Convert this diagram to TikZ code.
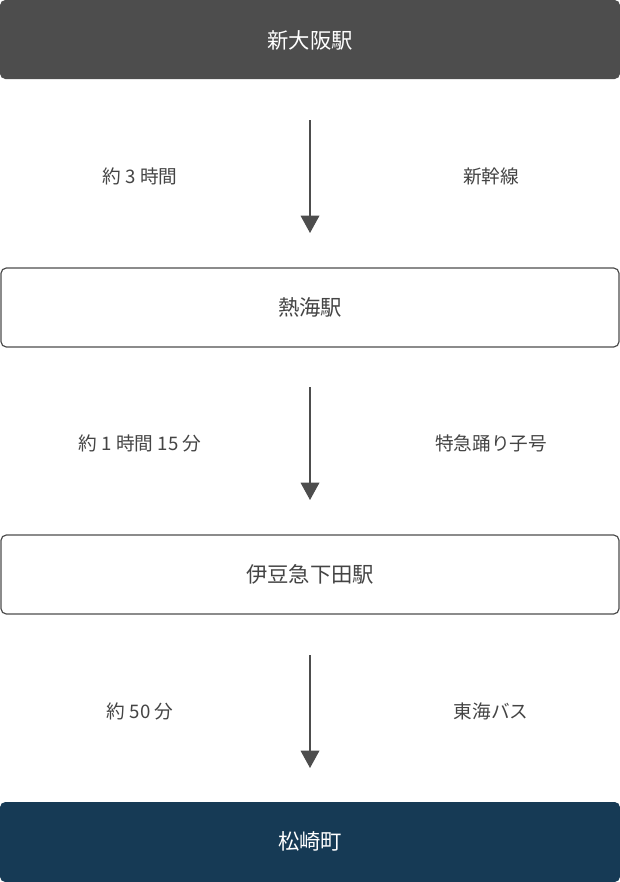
\documentclass[tikz,border=0pt]{standalone}
\usepackage{fontspec}
\setmainfont{Noto Sans CJK JP}
\usetikzlibrary{arrows.meta}
\definecolor{darkgrey}{HTML}{4D4D4D}
\definecolor{navy}{HTML}{163A55}
\definecolor{textgrey}{HTML}{444444}
\begin{document}
\begin{tikzpicture}[x=0.75pt,y=-0.75pt,
		station/.style={rounded corners=4pt,line width=0.9pt},
		lbl/.style={text=textgrey,font=\fontsize{14}{16}\selectfont},
		leg/.style={line width=1pt,darkgrey,-{Triangle[width=14pt,length=13pt]}}]
				\useasboundingbox (0,0) rectangle (620,882);
				
				\fill[station,darkgrey] (0,0) rectangle (620,79);
				\draw[station,darkgrey,fill=white] (1,268) rectangle (619,347);
				\draw[station,darkgrey,fill=white] (1,535) rectangle (619,614);
				\fill[station,navy] (0,802) rectangle (620,882);
				
				\node[text=white,font=\fontsize{16}{18}\selectfont] (shinosaka) at (310,40) {新大阪駅};
				\node[text=textgrey,font=\fontsize{16}{18}\selectfont] (atami) at (310,307) {熱海駅};
				\node[text=textgrey,font=\fontsize{16}{18}\selectfont] (shimoda) at (310,574) {伊豆急下田駅};
				\node[text=white,font=\fontsize{16}{18}\selectfont] (matsuzaki) at (310,841) {松崎町};
				
				\foreach \n/\y/\t/\r in {a/120/約 3 時間/新幹線,b/387/約 1 時間 15 分/特急踊り子号,c/655/約 50 分/東海バス}{
					\coordinate (\n s) at (310,\y);
					\coordinate (\n e) at (310,\y+113);
					\draw[leg] (\n s) -- (\n e);
					\node[lbl] (\n time) at (140,\y+56) {\t};
					\node[lbl] (\n line) at (491,\y+56) {\r};}
			\end{tikzpicture}
\end{document}
